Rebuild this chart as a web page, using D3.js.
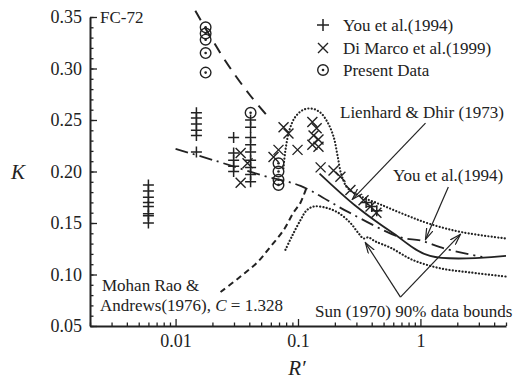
<!DOCTYPE html>
<html>
<head>
<meta charset="utf-8">
<script src="https://cdn.jsdelivr.net/npm/d3@7"></script>
<style>
  body { margin: 0; background: #fff; }
  text { font-family: "Liberation Serif", "Times New Roman", serif; fill: #222; }
</style>
</head>
<body>
<div id="chart"></div>
<script>
// data, R' (x) and K (y)

var youPlus = [
  [0.006, 0.187], [0.006, 0.181], [0.006, 0.175], [0.006, 0.170], [0.006, 0.166],
  [0.006, 0.159], [0.006, 0.157], [0.006, 0.150],
  [0.0148, 0.257], [0.0148, 0.252], [0.0148, 0.246], [0.0148, 0.240], [0.0148, 0.235], [0.0148, 0.219],
  [0.0298, 0.233], [0.0298, 0.218], [0.0298, 0.211], [0.0298, 0.205], [0.0298, 0.200],
  [0.041, 0.250], [0.041, 0.243], [0.041, 0.233], [0.041, 0.226], [0.041, 0.219],
  [0.041, 0.211], [0.041, 0.204], [0.041, 0.197], [0.041, 0.190],
  [0.36, 0.170], [0.40, 0.166], [0.44, 0.162]
];

var diMarcoX = [
  [0.034, 0.218], [0.0387, 0.208], [0.034, 0.189],
  [0.0762, 0.243], [0.0836, 0.237], [0.0693, 0.221], [0.0631, 0.214], [0.0991, 0.221],
  [0.131, 0.248], [0.142, 0.242], [0.134, 0.235], [0.147, 0.231], [0.131, 0.226], [0.147, 0.224],
  [0.153, 0.204], [0.195, 0.201], [0.222, 0.195], [0.268, 0.182], [0.343, 0.172],
  [0.391, 0.166], [0.437, 0.160]
];

var presentData = [
  [0.0176, 0.340], [0.0176, 0.334], [0.0176, 0.328], [0.0176, 0.315], [0.0176, 0.296],
  [0.041, 0.257],
  [0.0693, 0.208], [0.0693, 0.200], [0.0693, 0.192], [0.0693, 0.187]
];

// correlations
var lienhardDhir = [[0.15, 0.198], [0.3, 0.166], [0.6, 0.140], [1.2, 0.118], [5, 0.118]];
var lienhardExt = [[0.0145, 0.356], [0.025, 0.309], [0.04, 0.275], [0.058, 0.252]];
var youCorr = [[0.01, 0.222], [0.0204, 0.211], [0.052, 0.196], [0.105, 0.186], [0.254, 0.161],
               [0.69, 0.136], [1.0, 0.133], [1.6, 0.125], [3.2, 0.117]];
var mohanRao = [[0.0233, 0.083], [0.0339, 0.098], [0.0467, 0.112], [0.0596, 0.127],
                [0.0762, 0.143], [0.0917, 0.160], [0.105, 0.170], [0.117, 0.184]];
var sunUpper = [[0.076, 0.203], [0.079, 0.221], [0.085, 0.240], [0.095, 0.253], [0.111, 0.260],
                [0.131, 0.261], [0.153, 0.257], [0.174, 0.248], [0.195, 0.234], [0.21, 0.216],
                [0.226, 0.197], [0.254, 0.184], [0.324, 0.176], [0.47, 0.168], [0.75, 0.158],
                [1.2, 0.149], [2.2, 0.141], [5, 0.135]];
var sunLower = [[0.079, 0.124], [0.090, 0.138], [0.105, 0.153], [0.117, 0.162], [0.134, 0.166],
                [0.167, 0.165], [0.213, 0.160], [0.268, 0.150], [0.312, 0.140], [0.343, 0.135],
                [0.376, 0.136], [0.43, 0.132], [0.57, 0.126], [0.87, 0.114], [1.45, 0.106],
                [2.55, 0.102], [5, 0.098]];

// annotation arrows [from, to]
var arrows = [
  [[1.10, 0.247], [0.278, 0.173]],
  [[1.69, 0.185], [1.10, 0.134]],
  [[0.687, 0.078], [0.355, 0.131]],
  [[0.687, 0.078], [2.12, 0.139]]
];

var xMajor = [0.01, 0.1, 1];
var xMinor = [0.002, 0.003, 0.004, 0.005, 0.006, 0.007, 0.008, 0.009,
              0.02, 0.03, 0.04, 0.05, 0.06, 0.07, 0.08, 0.09,
              0.2, 0.3, 0.4, 0.5, 0.6, 0.7, 0.8, 0.9, 2, 3, 4, 5];
var yMajor = [0.05, 0.10, 0.15, 0.20, 0.25, 0.30, 0.35];
var yMinor = d3.range(5, 36).map(function(d) { return d / 100; });

var width = 523, height = 379;

var svg = d3.select("#chart")
  .append("svg")
    .attr("width", width)
    .attr("height", height);

var x = d3.scaleLog().domain([0.002, 5]).range([90, 506]);
var y = d3.scaleLinear().domain([0.05, 0.35]).range([326, 17]);

// arrow marker
svg.append("defs").append("marker")
    .attr("id", "arr")
    .attr("viewBox", "0 0 12 8")
    .attr("refX", 11).attr("refY", 4)
    .attr("markerWidth", 12).attr("markerHeight", 8)
    .attr("markerUnits", "userSpaceOnUse")
    .attr("orient", "auto")
  .append("path")
    .attr("d", "M0,0.5 L11,4 L0,7.5")
    .attr("fill", "none")
    .attr("stroke", "#222")
    .attr("stroke-width", 1.2);

// Y axis
var yAx = svg.append("g").attr("transform", "translate(90,0)");
yAx.call(d3.axisLeft(y).tickValues(yMajor).tickSize(-7).tickSizeOuter(0).tickPadding(8)
  .tickFormat(d3.format(".2f")));
yAx.append("g").call(d3.axisLeft(y).tickValues(yMinor).tickSize(-3.5).tickFormat(""))
  .select(".domain").remove();

// X axis
var xAx = svg.append("g").attr("transform", "translate(0,326)");
xAx.call(d3.axisBottom(x).tickValues(xMajor).tickSize(-7).tickSizeOuter(0).tickPadding(8)
  .tickFormat(function(d) { return d >= 1 ? d3.format("d")(d) : String(d); }));
xAx.append("g").call(d3.axisBottom(x).tickValues(xMinor).tickSize(-3.5).tickFormat(""))
  .select(".domain").remove();

svg.selectAll(".tick text")
  .style("font-family", "'Liberation Serif', 'Times New Roman', serif")
  .style("font-size", "18px")
  .attr("fill", "#222");
svg.selectAll(".domain").attr("stroke", "#222").attr("stroke-width", 2);
svg.selectAll(".tick line").attr("stroke", "#222").attr("stroke-width", 1.3);

// axis titles
svg.append("text").attr("x", 18).attr("y", 179).attr("text-anchor", "middle")
  .style("font-size", "21px").style("font-style", "italic").text("K");
svg.append("text").attr("x", 297).attr("y", 375).attr("text-anchor", "middle")
  .style("font-size", "21px").style("font-style", "italic").text("R\u2032");

// lines
var line = d3.line()
  .x(function(d) { return x(d[0]); })
  .y(function(d) { return y(d[1]); })
  .curve(d3.curveCatmullRom);

function drawLine(data, dash, w, cap) {
  svg.append("path")
    .datum(data)
    .attr("d", line)
    .attr("fill", "none")
    .attr("stroke", "#222")
    .attr("stroke-width", w)
    .attr("stroke-linecap", cap || "butt")
    .attr("stroke-dasharray", dash);
}

drawLine(lienhardDhir, null, 1.8);
drawLine(lienhardExt, "11 8", 2);
drawLine(youCorr, "13 5 2 5", 1.8);
drawLine(mohanRao, "6 4", 2);
drawLine(sunUpper, "0.1 3.2", 2.2, "round");
drawLine(sunLower, "0.1 3.2", 2.2, "round");

// arrows
svg.selectAll(".arrow")
  .data(arrows)
  .enter()
  .append("line")
    .attr("x1", function(d) { return x(d[0][0]); })
    .attr("y1", function(d) { return y(d[0][1]); })
    .attr("x2", function(d) { return x(d[1][0]); })
    .attr("y2", function(d) { return y(d[1][1]); })
    .attr("stroke", "#222")
    .attr("stroke-width", 1.2)
    .attr("marker-end", "url(#arr)");

// markers
function plusPath(cx, cy, s) {
  return "M" + (cx - s) + "," + cy + "H" + (cx + s) + "M" + cx + "," + (cy - s) + "V" + (cy + s);
}
function crossPath(cx, cy, s) {
  return "M" + (cx - s) + "," + (cy - s) + "L" + (cx + s) + "," + (cy + s) +
         "M" + (cx - s) + "," + (cy + s) + "L" + (cx + s) + "," + (cy - s);
}

svg.selectAll(".you")
  .data(youPlus)
  .enter()
  .append("path")
    .attr("d", function(d) { return plusPath(x(d[0]), y(d[1]), 5.5); })
    .attr("stroke", "#222").attr("stroke-width", 1.5).attr("fill", "none");

svg.selectAll(".dimarco")
  .data(diMarcoX)
  .enter()
  .append("path")
    .attr("d", function(d) { return crossPath(x(d[0]), y(d[1]), 5); })
    .attr("stroke", "#222").attr("stroke-width", 1.4).attr("fill", "none");

var pres = svg.selectAll(".present")
  .data(presentData)
  .enter()
  .append("g");
pres.append("circle")
    .attr("cx", function(d) { return x(d[0]); })
    .attr("cy", function(d) { return y(d[1]); })
    .attr("r", 5.3)
    .attr("fill", "none").attr("stroke", "#222").attr("stroke-width", 1.4);
pres.append("circle")
    .attr("cx", function(d) { return x(d[0]); })
    .attr("cy", function(d) { return y(d[1]); })
    .attr("r", 1.3)
    .attr("fill", "#222");

// legend
var legend = svg.append("g");
legend.append("path").attr("d", plusPath(323, 25, 6))
  .attr("stroke", "#222").attr("stroke-width", 1.5).attr("fill", "none");
legend.append("path").attr("d", crossPath(323, 48, 5))
  .attr("stroke", "#222").attr("stroke-width", 1.4).attr("fill", "none");
legend.append("circle").attr("cx", 323).attr("cy", 70).attr("r", 5.3)
  .attr("fill", "none").attr("stroke", "#222").attr("stroke-width", 1.4);
legend.append("circle").attr("cx", 323).attr("cy", 70).attr("r", 1.3).attr("fill", "#222");
var legendText = ["You et al.(1994)", "Di Marco et al.(1999)", "Present Data"];
legend.selectAll("text")
  .data(legendText)
  .enter()
  .append("text")
    .attr("x", 343)
    .attr("y", function(d, i) { return 31 + i * 22.5; })
    .style("font-size", "17px")
    .text(function(d) { return d; });

// annotations
function label(tx, ty, s, size) {
  return svg.append("text").attr("x", tx).attr("y", ty).style("font-size", (size || 17) + "px").text(s);
}
label(100, 23, "FC-72");
label(340, 118, "Lienhard & Dhir (1973)");
label(393, 181, "You et al.(1994)");
label(315, 317, "Sun (1970) 90% data bounds");
label(102, 291, "Mohan Rao &");
var mr = label(100, 311, "Andrews(1976), ");
mr.append("tspan").style("font-style", "italic").text("C");
mr.append("tspan").text(" = 1.328");
</script>
</body>
</html>
